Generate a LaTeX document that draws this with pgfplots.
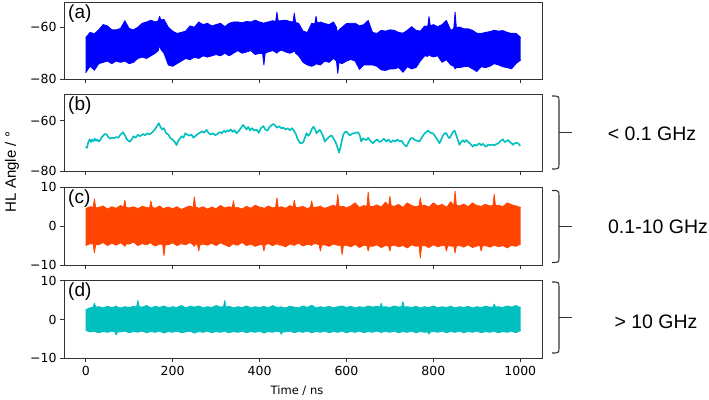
\documentclass[border=0pt]{standalone}
\usepackage{fontspec}
\setmainfont{DejaVu Sans}
\newfontfamily\arial{Liberation Sans}
\usepackage{pgfplots}
\usepackage{pgfplotstable}
\pgfplotsset{compat=1.18}
\usepgfplotslibrary{fillbetween}
\definecolor{mblue}{HTML}{0000FF}
\definecolor{morange}{HTML}{FF4500}
\definecolor{mcyan}{HTML}{00BFBF}
\definecolor{frame}{HTML}{333333}

% envelopes (upper / lower) of the noise bands
\pgfplotstableread{
t hi lo
0 -64 -77.5
10 -62 -75
20 -62.5 -76.5
30 -61 -74
40 -59 -73.5
50 -59.5 -73
60 -61 -74
70 -61 -73
80 -60.5 -73.5
90 -57.5 -73
100 -60.5 -74
110 -61 -73.5
120 -60 -72
130 -58.5 -71.5
140 -58 -72
150 -57.3 -71
160 -58 -70
167 -57.5 -69
170 -55.8 -67
173 -57.2 -68.5
180 -57 -70
190 -60 -74.5
200 -61.5 -75
210 -62.4 -74
220 -62 -73
230 -61.5 -72
240 -59.5 -72.5
250 -60 -71.5
260 -58 -72
270 -59 -71
280 -58.5 -71.5
290 -59.5 -71
300 -59 -70.5
310 -58.5 -71
320 -59.8 -70
330 -58.5 -71
340 -58 -70
350 -58 -69
360 -58.3 -70
370 -57.8 -69.5
380 -58 -69
390 -57.3 -70.5
400 -58 -70
407 -58.3 -70.2
410 -58.5 -74.5
413 -58.2 -70
420 -58 -69.5
430 -57.5 -69
437 -57.8 -69.6
440 -54.2 -70
443 -57.6 -69.4
450 -57.5 -68.8
460 -57.3 -69.5
470 -57.8 -70
477 -58 -69.5
480 -54.6 -69
483 -58.2 -70
490 -58.5 -71
500 -61.5 -73.5
510 -62 -74.5
520 -58.5 -75
527 -58.8 -74.5
530 -55.8 -74
533 -58.5 -74.2
540 -58 -74.5
550 -58.6 -73
560 -59 -73.5
570 -58 -72
577 -60 -73
580 -62.4 -77.8
583 -61 -73.5
590 -60 -74
600 -58.6 -73
610 -58.5 -72.4
620 -58.5 -73
630 -59.5 -76.2
640 -59 -74.5
650 -57.4 -74.5
660 -62 -74.5
670 -62.4 -75
680 -61.2 -76.4
690 -61.5 -76.6
700 -61 -76
710 -61.2 -76
720 -62 -75.5
730 -62.3 -77.3
740 -61.2 -75.2
750 -59.8 -76
760 -61.2 -75.5
770 -61.5 -73
780 -59.5 -71
787 -59.8 -71.2
790 -55.9 -70.5
793 -59.5 -71
800 -59 -71.4
810 -59.8 -71
820 -59 -73.5
830 -57.4 -72.5
840 -61.2 -74.5
847 -60.5 -75
850 -54.2 -76
853 -60.2 -75.5
860 -59.9 -75.5
870 -60.6 -75.2
880 -60.6 -75
890 -61.2 -76
900 -62.3 -77
910 -62.4 -75.2
920 -62 -75.5
930 -61.7 -75
940 -61.2 -74
950 -61.5 -74.5
960 -61.3 -75.2
970 -62 -75.5
980 -62.4 -76
990 -62.3 -74
1001 -64 -72.6
}\bandA

\pgfplotstableread{
t hi lo
0 4.5 -5.0
10 5.0 -4.5
17 4.8 -4.6
20 7.0 -6.9
23 4.7 -4.7
30 4.8 -4.8
40 5.2 -4.2
50 4.4 -5.0
60 5.0 -4.4
70 4.6 -4.9
80 5.3 -4.3
87 4.9 -4.8
90 6.7 -5.2
93 4.8 -4.6
100 4.7 -4.6
110 5.0 -4.1
120 4.5 -5.0
130 5.1 -4.5
140 4.8 -4.8
147 4.7 -4.4
150 6.5 -4.2
153 4.9 -4.7
160 4.6 -5.1
170 5.2 -4.6
177 4.6 -4.7
180 4.4 -7.6
183 4.7 -4.8
190 4.9 -4.8
200 4.5 -4.3
210 5.0 -5.0
220 4.3 -4.5
230 4.8 -4.8
240 5.2 -4.2
247 4.8 -4.8
250 7.5 -5.2
253 4.9 -4.6
257 4.8 -4.7
260 4.6 -6.4
263 4.7 -4.8
270 5.0 -4.6
280 4.4 -4.9
290 4.9 -4.4
300 4.5 -5.0
310 5.3 -4.3
320 4.7 -4.8
330 5.0 -5.3
337 4.8 -4.7
340 6.5 -4.5
343 4.7 -4.8
350 4.8 -4.9
360 4.4 -4.2
370 5.1 -5.0
380 4.6 -4.6
390 5.4 -5.2
400 4.9 -4.8
407 4.8 -4.7
410 4.5 -6.4
413 4.7 -4.8
420 5.2 -4.5
430 4.7 -5.0
437 4.9 -4.7
440 7.3 -4.4
443 4.8 -4.8
450 5.0 -4.9
460 4.6 -5.3
470 5.3 -4.6
477 4.9 -4.8
480 6.7 -5.0
483 4.8 -4.7
490 4.8 -4.4
500 5.1 -5.1
510 4.5 -4.7
517 4.9 -4.8
520 6.5 -5.0
523 4.8 -4.6
530 4.9 -4.5
537 5.0 -4.8
540 5.2 -6.4
543 4.9 -4.9
550 4.6 -4.8
560 5.0 -5.2
570 5.4 -4.6
577 5.0 -4.8
580 8.2 -5.0
583 5.1 -4.9
587 5.0 -4.9
590 5.0 -7.3
593 5.1 -5.0
600 4.7 -4.9
610 5.2 -5.3
620 6.0 -4.7
630 4.8 -5.5
640 5.3 -4.9
647 5.1 -5.0
650 8.8 -6.4
653 5.2 -5.1
660 5.0 -5.2
670 5.5 -4.8
680 4.9 -5.5
690 6.2 -5.0
697 5.2 -5.1
700 7.7 -6.4
703 5.3 -5.0
710 5.1 -4.9
720 5.6 -5.3
730 4.8 -5.0
740 6.0 -5.6
750 5.3 -4.8
760 5.0 -5.2
767 5.2 -5.0
770 7.3 -8.2
773 5.3 -5.1
780 5.4 -5.0
790 4.9 -5.5
800 6.0 -4.8
810 5.2 -5.3
820 5.6 -5.0
827 5.1 -5.0
830 4.9 -6.4
833 5.2 -5.1
840 6.3 -5.1
847 5.3 -5.2
850 9.0 -6.9
853 5.4 -5.1
860 5.2 -5.0
870 5.7 -5.4
880 5.0 -4.8
890 6.0 -5.5
900 5.3 -5.1
907 5.2 -5.0
910 5.0 -6.4
913 5.3 -5.1
920 5.6 -5.0
930 5.2 -5.4
937 5.3 -5.1
940 8.2 -4.9
943 5.3 -5.0
950 5.4 -5.3
960 5.0 -5.0
970 6.0 -5.6
980 5.5 -4.9
990 5.2 -5.2
1001 4.8 -4.6
}\bandC

\pgfplotstableread{
t hi lo
0 2.5 -2.8
10 3.0 -3.2
17 3.2 -3.1
20 4.2 -3.0
23 3.2 -3.2
30 3.3 -3.4
40 3.0 -3.1
50 3.4 -3.3
60 3.1 -3.0
67 3.3 -3.2
70 3.5 -4.0
73 3.2 -3.2
80 3.0 -3.2
90 3.3 -3.0
100 3.1 -3.4
110 3.4 -3.1
117 3.2 -3.2
120 4.9 -3.3
123 3.3 -3.1
130 3.2 -3.0
140 3.6 -3.4
150 3.0 -3.1
160 3.4 -3.3
170 3.1 -3.0
180 3.5 -3.5
190 3.0 -3.1
200 3.3 -3.3
210 3.1 -3.0
220 3.6 -3.4
230 3.0 -3.2
240 3.4 -3.0
250 3.2 -3.5
260 3.5 -3.1
270 3.0 -3.3
280 3.3 -3.0
290 3.1 -3.4
300 3.6 -3.1
310 3.2 -3.3
317 3.3 -3.1
320 4.9 -3.0
323 3.2 -3.2
330 3.4 -3.4
340 3.0 -3.1
350 3.3 -3.3
360 3.1 -3.0
370 3.5 -3.4
380 3.0 -3.1
390 3.3 -3.3
400 3.1 -3.0
410 3.4 -3.5
420 3.0 -3.1
430 3.6 -3.3
440 3.1 -3.0
447 3.2 -3.2
450 3.3 -3.8
453 3.1 -3.2
460 3.0 -3.2
470 3.4 -3.0
480 3.2 -3.4
490 3.0 -3.1
500 3.5 -3.3
510 3.1 -3.0
520 3.7 -3.4
530 3.0 -3.1
540 3.3 -3.3
550 3.1 -3.0
560 3.4 -3.4
570 3.0 -3.1
580 3.3 -3.3
590 3.5 -3.0
600 3.1 -3.4
610 3.4 -3.1
620 3.0 -3.3
630 3.3 -3.0
640 3.1 -3.4
650 3.5 -3.1
660 3.2 -3.3
670 3.4 -3.0
677 3.2 -3.2
680 4.2 -3.4
683 3.2 -3.2
690 3.3 -3.1
700 3.1 -3.3
710 3.5 -3.0
720 3.2 -3.4
727 3.3 -3.2
730 4.6 -3.1
733 3.2 -3.2
740 3.3 -3.3
750 3.1 -3.0
760 3.4 -3.4
770 3.0 -3.1
780 3.3 -3.3
787 3.1 -3.2
790 3.1 -3.8
793 3.2 -3.2
800 3.5 -3.1
810 3.0 -3.3
820 3.3 -3.0
830 3.1 -3.4
840 3.4 -3.1
850 3.0 -3.3
860 3.3 -3.0
870 3.1 -3.4
880 3.4 -3.1
890 3.0 -3.3
900 3.3 -3.0
910 3.1 -3.4
920 3.4 -3.1
930 3.2 -3.3
937 3.2 -3.1
940 4.0 -3.0
943 3.2 -3.2
950 3.3 -3.4
960 3.1 -3.1
970 3.5 -3.3
980 3.2 -3.0
990 3.6 -3.4
1001 3.0 -2.8
}\bandD

\pgfplotsset{panel/.style={
  scale only axis, width=478bp, anchor=north west,
  xmin=-50, xmax=1050, xtick={0,200,...,1000},
  tick pos=left, tick align=outside, major tick length=4bp,
  axis line style={frame, line width=0.9bp},
  tick style={frame, line width=0.9bp},
  tick label style={font=\fontsize{12.5bp}{15bp}\selectfont},
  /pgf/number format/assume math mode=true,
  /pgf/number format/1000 sep={},
}, edge/.style={line width=0.8bp, line join=round, no marks}}
\tikzset{plabel/.style={anchor=north west, inner sep=0pt, xshift=4bp, yshift=-2bp,
  font=\arial\fontsize{19bp}{22bp}\selectfont}}

\newcommand\bracket[2]{%
  \draw[frame, line width=1.1bp] (488bp,#1bp) .. controls (495bp,#1bp) .. (495bp,#1bp-6bp)
    -- (495bp,#2bp+6bp) .. controls (495bp,#2bp) .. (488bp,#2bp);
  \draw[frame, line width=1.1bp] (495bp,{(#1+#2)/2*1bp}) -- (508bp,{(#1+#2)/2*1bp});}

\begin{document}
\begin{tikzpicture}

% (a) full signal
\begin{axis}[panel, at={(0bp,0bp)}, height=76.6bp, ymin=-80, ymax=-50.6,
  ytick={-80,-60}, yticklabels={−80,−60}, xticklabels={}]
\addplot[edge, mblue, name path=ahi] table[x=t, y=hi] {\bandA};
\addplot[edge, mblue, name path=alo] table[x=t, y=lo] {\bandA};
\addplot[mblue] fill between[of=ahi and alo];
\node[plabel] at (rel axis cs:0,1) {(a)};
\end{axis}

% (b) < 0.1 GHz
\begin{axis}[panel, at={(0bp,-92bp)}, height=76.3bp, ymin=-80, ymax=-49.7,
  ytick={-80,-60}, yticklabels={−80,−60}, xticklabels={}]
\addplot[mcyan, line width=1.6bp, line join=round, no marks] coordinates {
(0,-70.3)(3,-70.8)(6,-68.5)(9,-67.4)(12,-68.5)(15,-67.5)(18,-68.2)(21,-67.2)(24,-68.0)(27,-67.5)
(30,-68.3)(33,-67.8)(36,-66.8)(40,-66.0)(44,-65.3)(48,-65.5)(52,-66.5)(56,-67.2)(60,-66.8)(65,-67.0)
(70,-66.5)(75,-66.8)(80,-65.5)(86,-64.6)(90,-65.8)(95,-67.5)(101,-68.4)(106,-67.5)(110,-66.2)(115,-66.8)
(120,-65.6)(125,-66.2)(132,-65.3)(137,-65.8)(142,-65.0)(147,-65.5)(152,-64.8)(158,-63.8)(163,-62.5)(168,-61.0)
(172,-62.5)(176,-63.5)(180,-63.0)(185,-65.0)(190,-65.5)(195,-67.0)(200,-67.5)(205,-68.5)(209,-69.7)(213,-68.0)
(217,-67.0)(221,-66.2)(225,-66.8)(229,-65.0)(233,-65.5)(238,-66.0)(243,-65.5)(248,-66.8)(253,-66.0)(258,-65.3)
(263,-64.8)(268,-64.2)(272,-64.8)(278,-63.7)(283,-65.0)(288,-65.5)(293,-65.0)(298,-65.8)(303,-65.3)(308,-64.5)
(313,-65.0)(318,-64.0)(322,-64.6)(326,-63.8)(330,-64.2)(334,-63.5)(338,-64.5)(342,-63.8)(347,-65.0)(352,-64.2)
(357,-63.0)(362,-61.7)(366,-62.5)(370,-63.5)(374,-62.5)(378,-63.8)(383,-63.0)(388,-64.0)(393,-63.5)(398,-64.8)
(403,-63.0)(409,-62.2)(413,-63.5)(418,-64.0)(423,-62.5)(428,-61.8)(432,-61.3)(436,-62.0)(440,-62.8)(445,-62.2)
(450,-63.0)(455,-62.8)(460,-63.5)(465,-63.0)(470,-63.8)(475,-63.0)(479,-64.0)(484,-65.5)(488,-67.5)(493,-68.8)
(497,-69.0)(501,-68.4)(505,-66.5)(508,-65.0)(512,-66.0)(516,-65.2)(520,-63.5)(524,-62.4)(528,-63.5)(531,-65.0)
(535,-64.2)(539,-63.7)(543,-65.0)(547,-66.5)(550,-68.3)(554,-67.5)(558,-66.8)(562,-66.2)(566,-65.9)(570,-67.0)
(575,-68.5)(579,-70.5)(583,-72.7)(587,-70.0)(590,-67.5)(593,-65.5)(596,-64.6)(600,-64.3)(604,-65.2)(608,-65.9)
(612,-65.3)(617,-65.0)(622,-64.8)(627,-64.6)(631,-66.0)(634,-68.3)(638,-67.0)(642,-67.5)(646,-67.7)(650,-66.8)
(655,-68.0)(661,-69.0)(666,-68.0)(671,-67.5)(676,-68.5)(681,-68.0)(686,-67.2)(692,-68.3)(697,-67.5)(702,-68.6)
(707,-67.8)(712,-68.3)(717,-67.5)(722,-68.3)(727,-68.0)(732,-69.3)(738,-70.3)(743,-68.5)(748,-67.0)(753,-67.0)
(758,-67.8)(763,-68.0)(768,-68.3)(773,-66.8)(778,-65.5)(783,-64.6)(788,-64.0)(793,-64.8)(799,-65.0)(804,-66.2)
(809,-67.5)(814,-69.0)(818,-67.5)(822,-66.0)(826,-65.0)(830,-65.0)(834,-66.5)(837,-67.0)(841,-65.8)(845,-64.5)
(849,-64.0)(852,-65.5)(856,-67.5)(860,-69.6)(864,-68.5)(868,-67.8)(872,-68.5)(876,-67.7)(880,-68.5)(884,-69.0)
(888,-69.8)(891,-70.3)(895,-69.5)(899,-70.0)(903,-69.3)(906,-69.0)(910,-69.8)(914,-69.2)(918,-70.0)(922,-70.3)
(926,-69.5)(930,-69.8)(935,-69.5)(940,-69.8)(945,-69.3)(950,-69.0)(955,-68.0)(960,-67.4)(964,-68.5)(968,-68.2)
(972,-67.7)(976,-68.5)(980,-69.0)(983,-69.6)(987,-69.0)(991,-68.8)(995,-69.0)(1000,-70.0)
};
\node[plabel] at (rel axis cs:0,1) {(b)};
\end{axis}

% (c) 0.1-10 GHz
\begin{axis}[panel, at={(0bp,-184.6bp)}, height=77.7bp, ymin=-10, ymax=10,
  ytick={-10,0,10}, yticklabels={−10,0,10}, xticklabels={}]
\addplot[edge, morange, name path=chi] table[x=t, y=hi] {\bandC};
\addplot[edge, morange, name path=clo] table[x=t, y=lo] {\bandC};
\addplot[morange] fill between[of=chi and clo];
\node[plabel] at (rel axis cs:0,1) {(c)};
\end{axis}

% (d) > 10 GHz
\begin{axis}[panel, at={(0bp,-278bp)}, height=77.6bp, ymin=-10, ymax=10,
  ytick={-10,0,10}, yticklabels={−10,0,10}]
\addplot[edge, mcyan, name path=dhi] table[x=t, y=hi] {\bandD};
\addplot[edge, mcyan, name path=dlo] table[x=t, y=lo] {\bandD};
\addplot[mcyan] fill between[of=dhi and dlo];
\node[plabel] at (rel axis cs:0,1) {(d)};
\end{axis}

% shared labels
\node[rotate=90, font=\arial\fontsize{15bp}{17bp}\selectfont] at (-52bp,-169.3bp) {HL Angle / °};
\node[font=\fontsize{11.5bp}{13bp}\selectfont] at (233bp,-388.3bp) {Time / ns};

% frequency brackets
\bracket{-93.3}{-166.3}
\bracket{-187.8}{-259.8}
\bracket{-279.3}{-350.3}
\begin{scope}[font=\arial\fontsize{19.5bp}{22bp}\selectfont]
\node at (588bp,-131bp) {< 0.1 GHz};
\node at (594bp,-224bp) {0.1-10 GHz};
\node at (592bp,-319bp) {> 10 GHz};
\end{scope}

\pgfresetboundingbox
\path[use as bounding box] (-64bp,-397.3bp) rectangle (645bp,2.7bp);
\end{tikzpicture}
\end{document}
